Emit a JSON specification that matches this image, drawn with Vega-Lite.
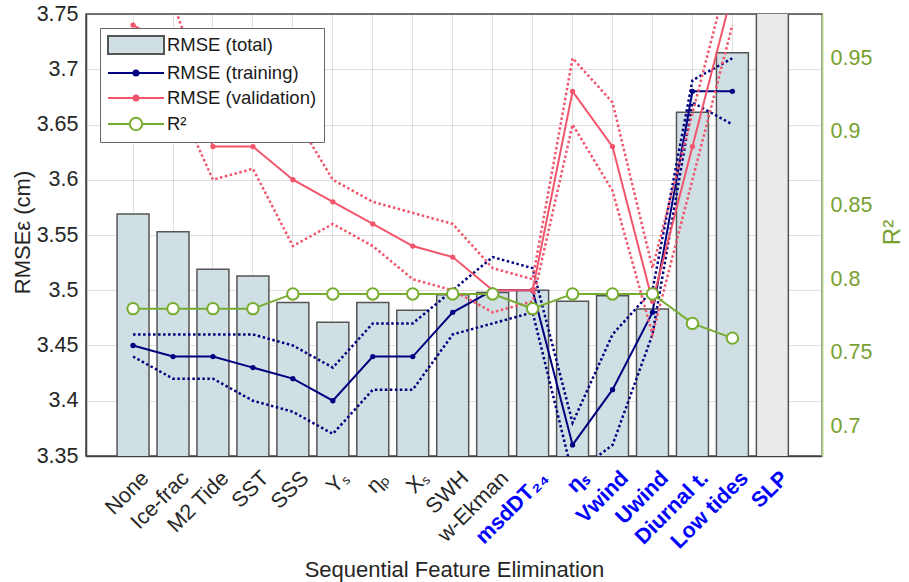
{
  "$schema": "https://vega.github.io/schema/vega-lite/v6.json",
  "width": 736,
  "height": 442,
  "autosize": {"type": "none"},
  "padding": {"left": 86, "top": 14, "right": 87, "bottom": 126},
  "background": "white",
  "data": {
    "values": [
      {"feature": "None", "total": 3.569, "train": 3.45, "train_lo": 3.44, "train_hi": 3.46, "val": 3.74, "val_lo": 3.70, "val_hi": 3.78, "r2": 0.78},
      {"feature": "Ice-frac", "total": 3.553, "train": 3.44, "train_lo": 3.42, "train_hi": 3.46, "val": 3.72, "val_lo": 3.68, "val_hi": 3.76, "r2": 0.78},
      {"feature": "M2 Tide", "total": 3.519, "train": 3.44, "train_lo": 3.42, "train_hi": 3.46, "val": 3.63, "val_lo": 3.60, "val_hi": 3.66, "r2": 0.78},
      {"feature": "SST", "total": 3.513, "train": 3.43, "train_lo": 3.40, "train_hi": 3.46, "val": 3.63, "val_lo": 3.61, "val_hi": 3.65, "r2": 0.78},
      {"feature": "SSS", "total": 3.489, "train": 3.42, "train_lo": 3.39, "train_hi": 3.45, "val": 3.60, "val_lo": 3.54, "val_hi": 3.66, "r2": 0.79},
      {"feature": "Υₛ", "total": 3.471, "train": 3.40, "train_lo": 3.37, "train_hi": 3.43, "val": 3.58, "val_lo": 3.56, "val_hi": 3.60, "r2": 0.79},
      {"feature": "ηₚ", "total": 3.489, "train": 3.44, "train_lo": 3.41, "train_hi": 3.47, "val": 3.56, "val_lo": 3.54, "val_hi": 3.58, "r2": 0.79},
      {"feature": "Χₛ", "total": 3.482, "train": 3.44, "train_lo": 3.41, "train_hi": 3.47, "val": 3.54, "val_lo": 3.51, "val_hi": 3.57, "r2": 0.79},
      {"feature": "SWH", "total": 3.496, "train": 3.48, "train_lo": 3.46, "train_hi": 3.50, "val": 3.53, "val_lo": 3.50, "val_hi": 3.56, "r2": 0.79},
      {"feature": "w-Ekman", "total": 3.498, "train": 3.50, "train_lo": 3.47, "train_hi": 3.53, "val": 3.50, "val_lo": 3.48, "val_hi": 3.52, "r2": 0.79},
      {"feature": "msdDT₂₄", "total": 3.500, "train": 3.50, "train_lo": 3.48, "train_hi": 3.52, "val": 3.50, "val_lo": 3.49, "val_hi": 3.51, "r2": 0.78},
      {"feature": "ηₛ", "total": 3.490, "train": 3.36, "train_lo": 3.333, "train_hi": 3.38, "val": 3.68, "val_lo": 3.65, "val_hi": 3.71, "r2": 0.79},
      {"feature": "Vwind", "total": 3.495, "train": 3.41, "train_lo": 3.36, "train_hi": 3.46, "val": 3.63, "val_lo": 3.59, "val_hi": 3.67, "r2": 0.79},
      {"feature": "Uwind", "total": 3.483, "train": 3.48, "train_lo": 3.46, "train_hi": 3.50, "val": 3.49, "val_lo": 3.46, "val_hi": 3.52, "r2": 0.79},
      {"feature": "Diurnal t.", "total": 3.661, "train": 3.68, "train_lo": 3.67, "train_hi": 3.69, "val": 3.63, "val_lo": 3.60, "val_hi": 3.66, "r2": 0.77},
      {"feature": "Low tides", "total": 3.715, "train": 3.68, "train_lo": 3.65, "train_hi": 3.71, "val": 3.77, "val_lo": 3.74, "val_hi": 3.80, "r2": 0.76},
      {"feature": "SLP", "total": 3.80, "train": null, "train_lo": null, "train_hi": null, "val": null, "val_lo": null, "val_hi": null, "r2": null}
    ]
  },
  "config": {
    "font": "Liberation Sans",
    "view": {"stroke": "#4d4d4d", "strokeWidth": 1.5},
    "axis": {
      "labelFont": "Liberation Sans",
      "titleFont": "Liberation Sans",
      "labelColor": "#262626",
      "titleColor": "#262626",
      "titleFontWeight": "normal",
      "labelFontSize": 21.5,
      "titleFontSize": 22,
      "ticks": false,
      "domainColor": "#404040",
      "domainWidth": 1.5,
      "gridColor": "#000000",
      "gridOpacity": 0.12,
      "gridWidth": 1,
      "zindex": 1
    },
    "axisRight": {
      "labelColor": "#77a12f",
      "titleColor": "#77a12f",
      "domainColor": "#b9d48f",
      "domainWidth": 2,
      "grid": false
    },
    "legend": {
      "labelFont": "Liberation Sans",
      "labelFontSize": 18.5,
      "labelColor": "#1a1a1a",
      "strokeColor": "#666666",
      "fillColor": "#ffffff",
      "padding": 7,
      "rowPadding": 5,
      "labelOffset": 40,
      "symbolSize": 324,
      "symbolStrokeWidth": 2,
      "symbolOpacity": 1
    }
  },
  "encoding": {
    "x": {
      "field": "feature",
      "type": "nominal",
      "sort": null,
      "scale": {"paddingInner": 0.2, "paddingOuter": 0.81, "align": 0.48},
      "axis": {
        "title": "Sequential Feature Elimination",
        "titleX": 368,
        "titleY": 113,
        "titleBaseline": "middle",
        "titleAlign": "center",
        "labelAngle": -45,
        "labelAlign": "right",
        "labelBaseline": "top",
        "labelOffset": 5,
        "labelPadding": 11,
        "labelOverlap": false,
        "bandPosition": 0.5,
        "grid": true,
        "labelColor": {
          "condition": {"test": "indexof(['msdDT₂₄','ηₛ','Vwind','Uwind','Diurnal t.','Low tides','SLP'], datum.value) >= 0", "value": "#0000ff"},
          "value": "#262626"
        },
        "labelFontWeight": {
          "condition": {"test": "indexof(['msdDT₂₄','ηₛ','Vwind','Uwind','Diurnal t.','Low tides','SLP'], datum.value) >= 0", "value": "bold"},
          "value": "normal"
        }
      }
    }
  },
  "layer": [
    {
      "layer": [
        {
          "transform": [{"filter": "datum.feature !== 'SLP'"}],
          "mark": {"type": "bar", "color": "#cfdfe3", "stroke": "#555555", "strokeWidth": 1.5, "clip": true},
          "encoding": {
            "y": {
              "field": "total", "type": "quantitative",
              "scale": {"domain": [3.35, 3.75], "zero": false, "nice": false},
              "axis": {"title": "RMSEε (cm)", "orient": "left", "values": [3.35, 3.4, 3.45, 3.5, 3.55, 3.6, 3.65, 3.7, 3.75], "format": ".2~f", "grid": true, "labelPadding": 8, "titleX": -64, "titleY": 218, "titleAngle": 270, "titleAlign": "center", "titleBaseline": "middle"}
            }
          }
        },
        {
          "transform": [{"filter": "datum.feature === 'SLP'"}],
          "mark": {"type": "bar", "color": "#ebebeb", "stroke": "#555555", "strokeWidth": 1.5, "clip": true},
          "encoding": {
            "y": {"field": "total", "type": "quantitative", "scale": {"domain": [3.35, 3.75], "zero": false, "nice": false}, "axis": {"title": "RMSEε (cm)"}}
          }
        },
        {
          "mark": {"type": "line", "color": "#000080", "strokeWidth": 2.5, "strokeDash": [2.5, 2.5], "clip": true},
          "encoding": {
            "y": {"field": "train_hi", "type": "quantitative", "scale": {"domain": [3.35, 3.75], "zero": false, "nice": false}, "axis": {"title": "RMSEε (cm)"}}
          }
        },
        {
          "mark": {"type": "line", "color": "#000080", "strokeWidth": 2.5, "strokeDash": [2.5, 2.5], "clip": true},
          "encoding": {
            "y": {"field": "train_lo", "type": "quantitative", "scale": {"domain": [3.35, 3.75], "zero": false, "nice": false}, "axis": {"title": "RMSEε (cm)"}}
          }
        },
        {
          "mark": {"type": "line", "color": "#000080", "strokeWidth": 2, "clip": true, "point": {"filled": true, "size": 28, "color": "#000080", "clip": true}},
          "encoding": {
            "y": {"field": "train", "type": "quantitative", "scale": {"domain": [3.35, 3.75], "zero": false, "nice": false}, "axis": {"title": "RMSEε (cm)"}}
          }
        },
        {
          "mark": {"type": "line", "color": "#f2556b", "strokeWidth": 2.5, "strokeDash": [2.5, 2.5], "clip": true},
          "encoding": {
            "y": {"field": "val_hi", "type": "quantitative", "scale": {"domain": [3.35, 3.75], "zero": false, "nice": false}, "axis": {"title": "RMSEε (cm)"}}
          }
        },
        {
          "mark": {"type": "line", "color": "#f2556b", "strokeWidth": 2.5, "strokeDash": [2.5, 2.5], "clip": true},
          "encoding": {
            "y": {"field": "val_lo", "type": "quantitative", "scale": {"domain": [3.35, 3.75], "zero": false, "nice": false}, "axis": {"title": "RMSEε (cm)"}}
          }
        },
        {
          "mark": {"type": "line", "color": "#f2556b", "strokeWidth": 2, "clip": true, "point": {"filled": true, "size": 28, "color": "#f2556b", "clip": true}},
          "encoding": {
            "y": {"field": "val", "type": "quantitative", "scale": {"domain": [3.35, 3.75], "zero": false, "nice": false}, "axis": {"title": "RMSEε (cm)"}}
          }
        },
        {
          "transform": [{"filter": "false"}],
          "mark": {"type": "point", "filled": true, "opacity": 1, "size": 324},
          "encoding": {
            "shape": {
              "field": "series", "type": "nominal",
              "scale": {"domain": ["RMSE (total)", "RMSE (training)", "RMSE (validation)", "R²"], "range": ["M-1,-1H5.222V1H-1Z", "M-1,0H5.222M1.831,0A0.28,0.28,0,1,0,2.391,0A0.28,0.28,0,1,0,1.831,0", "M-1,0H5.222M1.831,0A0.28,0.28,0,1,0,2.391,0A0.28,0.28,0,1,0,1.831,0", "M-1,0H1.421M2.801,0H5.222M1.421,0A0.69,0.69,0,1,0,2.801,0A0.69,0.69,0,1,0,1.421,0"]},
              "legend": {"title": null, "orient": "top-left", "offset": 14}
            },
            "fill": {
              "field": "series", "type": "nominal",
              "scale": {"domain": ["RMSE (total)", "RMSE (training)", "RMSE (validation)", "R²"], "range": ["#cfdfe3", "#000080", "#f2556b", "#ffffff"]},
              "legend": {"title": null, "orient": "top-left", "offset": 14}
            },
            "stroke": {
              "field": "series", "type": "nominal",
              "scale": {"domain": ["RMSE (total)", "RMSE (training)", "RMSE (validation)", "R²"], "range": ["#555555", "#000080", "#f2556b", "#77ac30"]},
              "legend": {"title": null, "orient": "top-left", "offset": 14}
            }
          }
        }
      ]
    },
    {
      "mark": {"type": "line", "color": "#77ac30", "strokeWidth": 2, "point": {"filled": false, "fill": "#ffffff", "color": "#77ac30", "size": 130, "strokeWidth": 2, "opacity": 1}},
      "encoding": {
        "y": {
          "field": "r2", "type": "quantitative",
          "scale": {"domain": [0.68, 0.98], "zero": false, "nice": false},
          "axis": {"title": "R²", "orient": "right", "values": [0.7, 0.75, 0.8, 0.85, 0.9, 0.95], "format": ".2~f", "labelPadding": 8, "titleFontSize": 24, "titleX": 70, "titleY": 218, "titleAngle": 270, "titleAlign": "center", "titleBaseline": "middle"}
        }
      }
    }
  ],
  "resolve": {"scale": {"y": "independent"}}
}
